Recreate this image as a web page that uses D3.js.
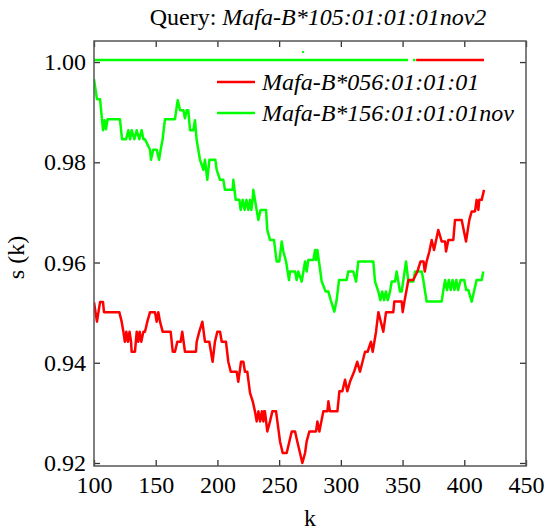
<!DOCTYPE html>
<html>
<head>
<meta charset="utf-8">
<script src="https://cdn.jsdelivr.net/npm/d3@7"></script>
<style>
	body { margin: 0; background: #fff; }
	svg, svg text { font-family: "Liberation Serif", "DejaVu Serif", serif; }
</style>
</head>
<body>
<div id="chart-area"></div>
<script>

// Chart data
const queryName = "Mafa-B*105:01:01:01nov2";
const seriesNames = ["Mafa-B*056:01:01:01", "Mafa-B*156:01:01:01nov"];
const seriesColors = ["#ff0000", "#00ff00"];

const kRed = [100, 102.4, 104.9, 107.3, 108.1, 120.5, 122.4, 123.8, 125, 126.2, 127.5, 128.8, 130, 130.5, 133.2, 134.6, 135.8, 137, 138.3, 140, 141.3, 143.2, 145.4, 149.4, 150.8, 152.1, 153.5, 155.6, 162.1, 163.8, 165.6, 167.5, 170.2, 171.5, 173.7, 182.6, 183.2, 185.3, 187.8, 189.9, 193.4, 196.1, 198, 199.9, 202.1, 203.5, 206.9, 208.8, 210.8, 215.6, 216.9, 219.1, 221, 222.3, 224.2, 226.4, 228.6, 230.4, 231.8, 233.2, 234.6, 236, 237.2, 237.7, 238.5, 240.4, 242.6, 244.5, 247.5, 250.7, 252.9, 256.1, 258.3, 260.2, 262.9, 264.7, 266.9, 268.8, 271, 272.3, 274.5, 279.9, 281, 282.6, 285.8, 289.1, 289.9, 291.2, 297.2, 298.8, 301.2, 303.4, 305.2, 307.4, 310.7, 313.3, 315.5, 319.6, 321.7, 324.4, 325.8, 328.5, 330.4, 334.4, 336.6, 342.5, 343.3, 349.3, 350.1, 351.5, 354.7, 358.7, 362, 364.5, 367, 368, 369.5, 371.7, 373.6, 375.5, 378.9, 381.7, 384.4, 385.2, 387.1, 391.1, 392.5, 397.9, 401.4, 404.1, 406, 408.7, 410, 411.4, 412.2, 414.1, 416];
const sRed = [0.9521, 0.9482, 0.9521, 0.9521, 0.9501, 0.9501, 0.9482, 0.9462, 0.9442, 0.9462, 0.9442, 0.9462, 0.9442, 0.9422, 0.9422, 0.9462, 0.9442, 0.9462, 0.9442, 0.9462, 0.9462, 0.9482, 0.9501, 0.9501, 0.9482, 0.9501, 0.9482, 0.9462, 0.9462, 0.9422, 0.9422, 0.9442, 0.9442, 0.9462, 0.9422, 0.9422, 0.9442, 0.9462, 0.9482, 0.9442, 0.9442, 0.9402, 0.9442, 0.9462, 0.9462, 0.9442, 0.9442, 0.9402, 0.9382, 0.9382, 0.9362, 0.9402, 0.9402, 0.9382, 0.9382, 0.934, 0.9323, 0.9303, 0.9283, 0.9303, 0.9283, 0.9303, 0.9283, 0.9303, 0.9303, 0.9263, 0.9283, 0.9303, 0.9303, 0.9243, 0.922, 0.922, 0.9243, 0.9263, 0.9263, 0.9243, 0.922, 0.92, 0.922, 0.9243, 0.9263, 0.9263, 0.9283, 0.9263, 0.9303, 0.9303, 0.9323, 0.9303, 0.9303, 0.9343, 0.9343, 0.9366, 0.9343, 0.9362, 0.9382, 0.9402, 0.9382, 0.9422, 0.9422, 0.9442, 0.9422, 0.9462, 0.9501, 0.9462, 0.9501, 0.9501, 0.9522, 0.9522, 0.9501, 0.9522, 0.9565, 0.9565, 0.9582, 0.9602, 0.9602, 0.9582, 0.9602, 0.9622, 0.9645, 0.9625, 0.9665, 0.9642, 0.9642, 0.9622, 0.9645, 0.9645, 0.9685, 0.9685, 0.9642, 0.9685, 0.9702, 0.9702, 0.9725, 0.9705, 0.9725, 0.9725, 0.9745];

const kGreen = [100, 102.4, 104.9, 107.3, 108.5, 109.7, 111, 121, 122.7, 126, 127.8, 129.2, 130.5, 132.7, 134.6, 136.7, 138.6, 140, 141.3, 145.4, 146.2, 148, 150.8, 152.7, 154, 155.6, 157.5, 165.6, 167.8, 169.7, 172.4, 173.7, 175.1, 176.4, 177.8, 180.5, 181.8, 183.2, 185.9, 188.6, 189.9, 191.8, 193.5, 198.3, 199.4, 202.1, 204.8, 206.1, 212.4, 212.9, 214.8, 217.8, 218.8, 220.5, 222, 223.5, 225, 226.4, 227.5, 228.5, 229.1, 233.1, 235, 239.4, 240.4, 242.6, 245.8, 248, 250.1, 252.1, 253.4, 255.6, 258, 258.8, 262.9, 264.2, 265.5, 268.3, 271, 272.3, 273.6, 277.7, 279.1, 279.9, 281, 284.5, 287.7, 289.9, 291.8, 294.7, 296.6, 298.5, 304.7, 306, 310.1, 312.3, 314.1, 326.3, 327.7, 330.4, 332, 333.5, 335, 336.5, 338, 339.8, 341.2, 343.9, 345.2, 347.9, 349.3, 352.8, 354.7, 358.7, 360.1, 365.5, 366.8, 369.5, 381.6, 384.4, 386, 387.5, 389, 390.5, 392, 393.5, 395, 397, 400, 401.5, 403.3, 406, 410, 414.1, 415.4];
const sGreen = [0.9966, 0.9926, 0.9926, 0.9864, 0.9884, 0.9866, 0.9886, 0.9886, 0.9846, 0.9846, 0.9864, 0.9846, 0.9864, 0.9846, 0.9864, 0.9846, 0.9864, 0.9846, 0.9846, 0.9825, 0.9805, 0.9825, 0.9825, 0.9805, 0.9825, 0.9846, 0.9886, 0.9886, 0.9924, 0.9904, 0.9904, 0.9888, 0.9904, 0.9904, 0.9864, 0.9864, 0.9884, 0.9844, 0.9805, 0.9785, 0.9805, 0.9765, 0.9805, 0.9805, 0.9785, 0.9765, 0.9765, 0.9745, 0.9745, 0.9765, 0.9725, 0.9725, 0.9705, 0.9725, 0.9705, 0.9725, 0.9705, 0.9725, 0.9705, 0.9725, 0.9745, 0.9685, 0.9705, 0.9705, 0.9665, 0.9645, 0.9645, 0.9602, 0.9602, 0.9642, 0.9622, 0.9602, 0.9565, 0.9582, 0.9582, 0.9565, 0.9582, 0.9562, 0.9602, 0.9582, 0.9605, 0.9605, 0.9625, 0.9605, 0.9625, 0.9562, 0.9542, 0.9542, 0.9525, 0.9502, 0.9525, 0.9565, 0.9565, 0.9582, 0.9582, 0.9562, 0.9602, 0.9602, 0.9562, 0.9542, 0.9525, 0.9542, 0.9525, 0.9542, 0.9525, 0.9542, 0.9562, 0.9562, 0.9582, 0.9542, 0.9542, 0.9602, 0.9562, 0.9562, 0.9582, 0.9582, 0.9565, 0.9522, 0.9522, 0.9565, 0.9545, 0.9565, 0.9545, 0.9565, 0.9545, 0.9565, 0.9545, 0.9565, 0.9565, 0.9545, 0.9545, 0.9522, 0.9565, 0.9565, 0.9582];

// best-match strip drawn along the top (series index per k range)
const bestLevel = 1.0004;
const bestFrom = [100, 358.5, 361];
const bestTo = [354.5, 360.5, 416];
const bestSeries = [1, 1, 0];
const strayK = [269.4], strayS = [1.002];

const xTicks = [100, 150, 200, 250, 300, 350, 400, 450];
const yTicks = [0.92, 0.94, 0.96, 0.98, 1.00];

// SVG size and plot frame
const width = 549, height = 531;
const padLeft = 94, padRight = 526, padTop = 41, padBottom = 466;
const serif = "'Liberation Serif', 'DejaVu Serif', serif";

let svg = d3.select("#chart-area")
	.append("svg")
	.attr("width", width)
	.attr("height", height)
	.attr("font-family", serif);

const x = d3.scaleLinear().domain([100, 450]).range([padLeft, padRight]);
const y = d3.scaleLinear().domain([0.9194, 1.0042]).range([padBottom, padTop]);

svg.append("clipPath").attr("id", "plot-clip")
	.append("rect")
	.attr("x", padLeft).attr("y", padTop)
	.attr("width", padRight - padLeft).attr("height", padBottom - padTop);

const plot = svg.append("g").attr("clip-path", "url(#plot-clip)");

const line = d3.line().x(d => x(d[0])).y(d => y(d[1]));

// series lines
plot.append("path")
	.datum(d3.zip(kGreen, sGreen))
	.attr("d", line)
	.attr("fill", "none")
	.attr("stroke", seriesColors[1])
	.attr("stroke-width", 2.5)
	.attr("stroke-linejoin", "round");

plot.append("path")
	.datum(d3.zip(kRed, sRed))
	.attr("d", line)
	.attr("fill", "none")
	.attr("stroke", seriesColors[0])
	.attr("stroke-width", 2.5)
	.attr("stroke-linejoin", "round");

// best-match strip
plot.selectAll(".best")
	.data(d3.range(bestFrom.length))
	.enter()
	.append("line")
	.attr("class", "best")
	.attr("x1", i => x(bestFrom[i]))
	.attr("x2", i => x(bestTo[i]))
	.attr("y1", y(bestLevel))
	.attr("y2", y(bestLevel))
	.attr("stroke", i => seriesColors[bestSeries[i]])
	.attr("stroke-width", 2.5);

plot.selectAll(".stray")
	.data(d3.zip(strayK, strayS))
	.enter()
	.append("rect")
	.attr("x", d => x(d[0]) - 1)
	.attr("y", d => y(d[1]) - 1)
	.attr("width", 2)
	.attr("height", 2)
	.attr("fill", seriesColors[1]);

// axes with inward ticks on all four sides
const axisColor = "#333";
function styleAxis(g) {
	g.attr("font-family", serif);
	g.select(".domain").remove();
	g.selectAll(".tick line").attr("stroke", axisColor).attr("stroke-width", 1.3);
	g.selectAll(".tick text")
		.style("font-family", serif)
		.style("font-size", "24px")
		.attr("fill", "#000");
}

svg.append("g")
	.attr("transform", "translate(0," + padBottom + ")")
	.call(d3.axisBottom(x).tickValues(xTicks).tickSize(-6).tickPadding(10).tickFormat(d3.format("d")))
	.call(styleAxis);

svg.append("g")
	.attr("transform", "translate(0," + padTop + ")")
	.call(d3.axisTop(x).tickValues(xTicks).tickSize(-6).tickFormat(""))
	.call(styleAxis);

svg.append("g")
	.attr("transform", "translate(" + padLeft + ",0)")
	.call(d3.axisLeft(y).tickValues(yTicks).tickSize(-6).tickPadding(8).tickFormat(d3.format(".2f")))
	.call(styleAxis);

svg.append("g")
	.attr("transform", "translate(" + padRight + ",0)")
	.call(d3.axisRight(y).tickValues(yTicks).tickSize(-6).tickFormat(""))
	.call(styleAxis);

// frame
svg.append("rect")
	.attr("x", padLeft).attr("y", padTop)
	.attr("width", padRight - padLeft).attr("height", padBottom - padTop)
	.attr("fill", "none")
	.attr("stroke", "#555")
	.attr("stroke-width", 1.5);

// legend
const legend = svg.append("g");
seriesNames.forEach((name, i) => {
	const ly = 82 + i * 31;
	legend.append("line")
		.attr("x1", 217).attr("x2", 255)
		.attr("y1", ly).attr("y2", ly)
		.attr("stroke", seriesColors[i])
		.attr("stroke-width", 2.5);
	legend.append("text")
		.attr("x", 262)
		.attr("y", ly + 8)
		.style("font-family", serif)
		.style("font-size", "24px")
		.style("font-style", "italic")
		.text(name);
});

// title
const title = svg.append("text")
	.attr("x", 318)
	.attr("y", 25)
	.attr("text-anchor", "middle")
	.style("font-family", serif)
	.style("font-size", "24px");
title.append("tspan").text("Query: ");
title.append("tspan").style("font-style", "italic").text(queryName);

// axis labels
svg.append("text")
	.attr("text-anchor", "middle")
	.attr("x", (padLeft + padRight) / 2)
	.attr("y", 526)
	.style("font-family", serif)
	.style("font-size", "24px")
	.text("k");

svg.append("text")
	.attr("text-anchor", "middle")
	.attr("transform", "rotate(-90)")
	.attr("x", -(padTop + padBottom) / 2 - 4)
	.attr("y", 24)
	.style("font-family", serif)
	.style("font-size", "24px")
	.text("s (k)");

</script>
</body>
</html>
